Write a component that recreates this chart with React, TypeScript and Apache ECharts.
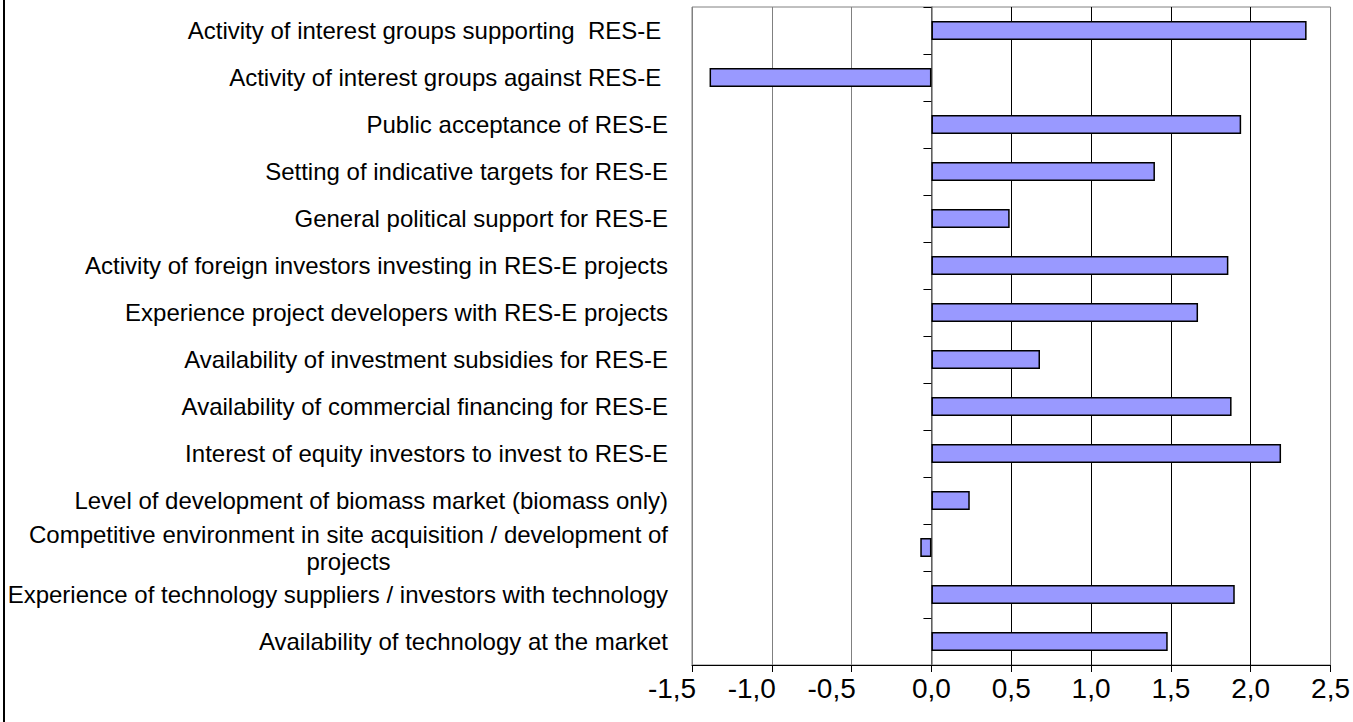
import React, { useEffect, useRef } from "react";
import * as echarts from "echarts";

const categories = [
  "Activity of interest groups supporting  RES-E ",
  "Activity of interest groups against RES-E ",
  "Public acceptance of RES-E",
  "Setting of indicative targets for RES-E",
  "General political support for RES-E",
  "Activity of foreign investors investing in RES-E projects",
  "Experience project developers with RES-E projects",
  "Availability of investment subsidies for RES-E",
  "Availability of commercial financing for RES-E",
  "Interest of equity investors to invest to RES-E",
  "Level of development of biomass market (biomass only)",
  "Competitive environment in site acquisition / development of\nprojects",
  "Experience of technology suppliers / investors with technology",
  "Availability of technology at the market",
];

const values = [2.35, -1.39, 1.94, 1.4, 0.49, 1.86, 1.67, 0.68, 1.88, 2.19, 0.24, -0.07, 1.9, 1.48];

const xMin = -1.5;
const xMax = 2.5;
const xStep = 0.5;

const FONT = "'Liberation Sans', Arial, sans-serif";

export default function App() {
  const ref = useRef<HTMLDivElement>(null);

  useEffect(() => {
    if (!ref.current) return;
    const chart = echarts.init(ref.current, null, { renderer: "svg" });
    chart.setOption({
      animation: false,
      backgroundColor: "#ffffff",
      textStyle: { fontFamily: FONT },
      grid: {
        left: 692,
        right: 22,
        top: 7,
        bottom: 57,
        show: true,
        borderColor: "#808080",
        borderWidth: 1,
        backgroundColor: "transparent",
      },
      graphic: [
        {
          type: "line",
          shape: { x1: 4, y1: 0, x2: 4, y2: 722 },
          style: { stroke: "#000", lineWidth: 2 },
        },
      ],
      xAxis: {
        type: "value",
        min: xMin,
        max: xMax,
        interval: xStep,
        position: "bottom",
        axisLine: { show: true, lineStyle: { color: "#000", width: 1 } },
        axisTick: { show: true, length: 7, lineStyle: { color: "#000" } },
        axisLabel: {
          fontSize: 28,
          color: "#000",
          fontFamily: FONT,
          margin: 9,
          formatter: (v: number) => {
            const s = v.toFixed(1).replace(".", ",");
            return v < 0 ? `{n|${s}}` : `{p|${s}}`;
          },
          rich: {
            n: { fontSize: 28, color: "#000", fontFamily: FONT, padding: [0, 40, 0, 0] },
            p: { fontSize: 28, color: "#000", fontFamily: FONT },
          },
        },
        splitLine: {
          show: true,
          lineStyle: {
            color: ["#808080", "#808080", "#808080", "#000", "#000", "#000", "#000", "#000", "#808080"],
            width: 1,
          },
        },
      },
      yAxis: [
        {
          type: "category",
          inverse: true,
          data: categories,
          position: "left",
          axisLine: { show: false, onZero: false },
          axisTick: { show: false },
          axisLabel: {
            fontSize: 24,
            color: "#000",
            fontFamily: FONT,
            margin: 24,
            lineHeight: 27,
            formatter: (v: string) =>
              v.includes("\n")
                ? v
                    .split("\n")
                    .map((s) => `{c|${s}}`)
                    .join("\n")
                : v,
            rich: {
              c: {
                align: "center",
                fontSize: 24,
                color: "#000",
                fontFamily: FONT,
                lineHeight: 27,
              },
            },
          },
        },
        {
          type: "category",
          inverse: true,
          data: categories,
          position: "left",
          axisLine: { show: true, onZero: true, lineStyle: { color: "#808080", width: 1.5 } },
          axisTick: { show: true, length: 8, lineStyle: { color: "#000" } },
          axisLabel: { show: false },
          splitLine: { show: false },
        },
      ],
      series: [
        {
          type: "bar",
          yAxisIndex: 0,
          data: values,
          barWidth: 19,
          itemStyle: { color: "#9999FF", borderColor: "#000", borderWidth: 1.5 },
        },
      ],
    });
    return () => chart.dispose();
  }, []);

  return (
    <div
      ref={ref}
      style={{ position: "absolute", left: 0, top: 0, width: 1353, height: 722 }}
    />
  );
}
